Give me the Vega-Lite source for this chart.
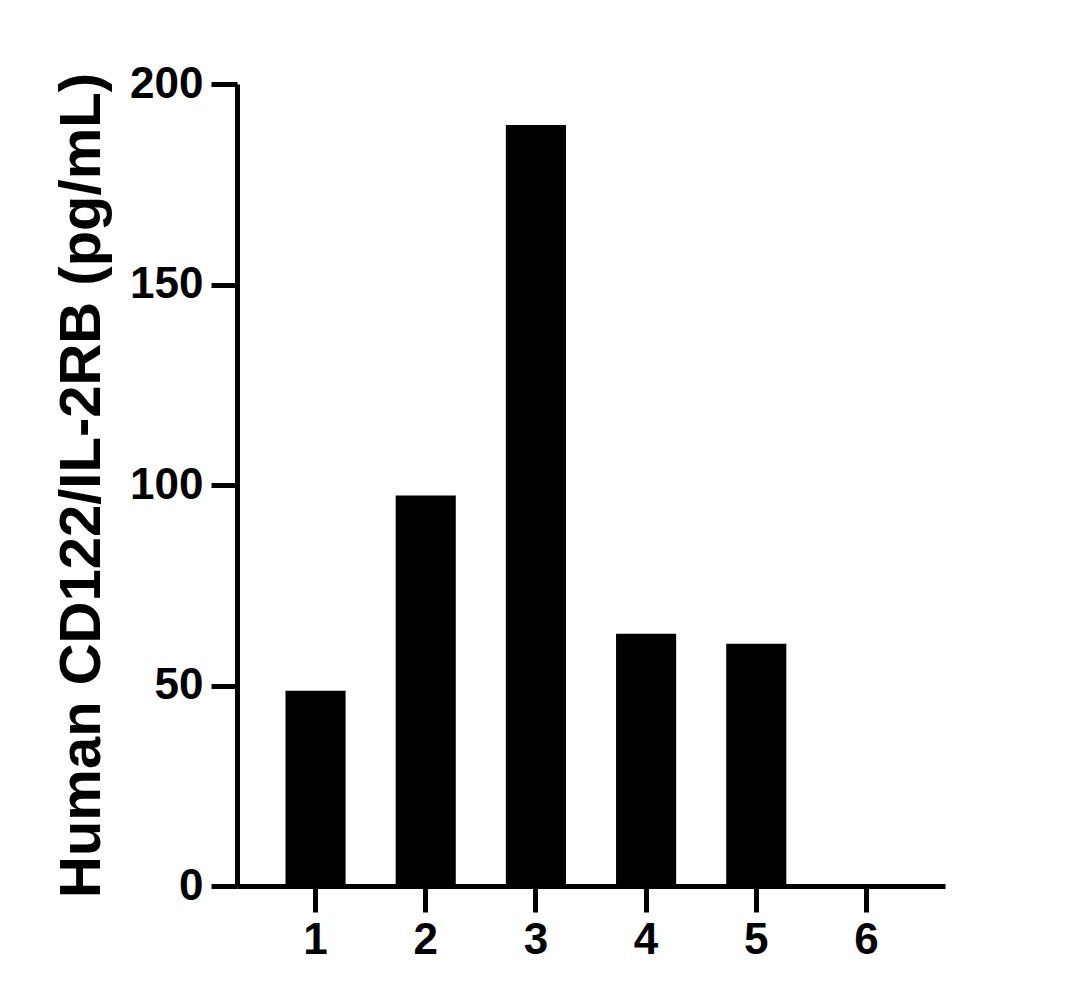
{
  "$schema": "https://vega.github.io/schema/vega-lite/v6.json",
  "autosize": {"type": "none"},
  "padding": {"left": 237, "top": 84, "right": 133, "bottom": 119},
  "width": 708,
  "height": 802,
  "background": "white",
  "config": {
    "view": {"stroke": null},
    "axis": {
      "grid": false,
      "domainColor": "black",
      "domainWidth": 5,
      "tickColor": "black",
      "tickWidth": 5,
      "tickSize": 26,
      "labelColor": "black",
      "labelFont": "Liberation Sans",
      "labelFontWeight": "bold",
      "labelFontSize": 44,
      "titleFont": "Liberation Sans",
      "titleFontWeight": "bold",
      "titleColor": "black"
    }
  },
  "data": {
    "values": [
      {"sample": "1", "value": 48.7},
      {"sample": "2", "value": 97.4},
      {"sample": "3", "value": 189.8},
      {"sample": "4", "value": 62.9},
      {"sample": "5", "value": 60.4},
      {"sample": "6", "value": 0}
    ]
  },
  "mark": {"type": "bar", "color": "black"},
  "encoding": {
    "x": {
      "field": "sample",
      "type": "nominal",
      "sort": null,
      "scale": {"paddingInner": 0.4545, "paddingOuter": 0.44},
      "axis": {"title": null, "labelAngle": 0, "labelPadding": 6}
    },
    "y": {
      "field": "value",
      "type": "quantitative",
      "scale": {"domain": [0, 200], "nice": false},
      "axis": {
        "values": [0, 50, 100, 150, 200],
        "title": "Human CD122/IL-2RB (pg/mL)",
        "titleFontSize": 58,
        "titlePadding": 18,
        "labelPadding": 8
      }
    }
  }
}
